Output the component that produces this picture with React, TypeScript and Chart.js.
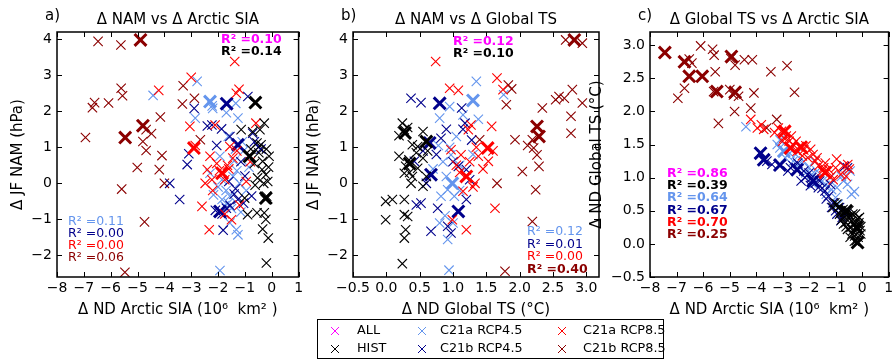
import React, { useEffect, useRef } from 'react';
import { Chart, registerables } from 'chart.js';
Chart.register(...registerables);

const FONT = "'DejaVu Sans', sans-serif";
type P = [number, number];

// ---------- groups ----------
const groupNames = ['HIST', 'C21a RCP4.5', 'C21b RCP4.5', 'C21a RCP8.5', 'C21b RCP8.5'];
const groupColors = ['#000000', '#6495ED', '#00008B', '#FF0000', '#8B0000'];
const groupOrder = [0, 3, 2, 1, 4];
const legendLabels = ['ALL', 'HIST', 'C21a RCP4.5', 'C21b RCP4.5', 'C21a RCP8.5', 'C21b RCP8.5'];
const legendColors = ['#FF00FF', '#000000', '#6495ED', '#00008B', '#FF0000', '#8B0000'];

// ---------- ticks ----------
const siaTicks = [-8, -7, -6, -5, -4, -3, -2, -1, 0, 1];
const namTicks = [-2, -1, 0, 1, 2, 3, 4];
const tsTicks = [-0.5, 0, 0.5, 1, 1.5, 2, 2.5, 3];

// ---------- panel a: SIA vs NAM ----------
const histA: P[] = [[-1.14,1.49],[-0.28,1.67],[-0.44,1.49],[-0.71,1.43],[-0.40,1.07],[-0.55,1.12],[-0.10,0.75],[-0.34,0.61],[-0.20,0.95],[-0.53,0.15],[-0.22,0.24],[-0.36,0.38],[-0.15,0.05],[-0.30,0.00],[-0.24,-0.45],[-0.19,-0.36],[-1.01,-0.41],[-0.90,-0.87],[-0.55,-0.82],[-0.28,-0.82],[-0.22,-1.00],[-0.34,-1.27],[-0.13,-1.52],[-0.20,-2.21],[-0.65,0.55],[-0.48,0.85],[-0.12,0.45],[-0.78,0.95],[-0.62,-0.05]];
const histABold: P[] = [[-0.61,2.24],[-0.83,0.75],[-0.22,-0.41]];
const c45aA: P[] = [[-4.42,2.44],[-2.78,2.83],[-2.20,2.08],[-2.22,2.15],[-1.34,2.22],[-2.85,1.81],[-1.26,1.81],[-1.69,1.96],[-1.62,1.30],[-1.93,0.75],[-2.30,0.28],[-1.44,0.19],[-1.20,0.00],[-2.17,-0.32],[-1.62,-0.55],[-1.56,-0.36],[-1.56,-1.10],[-1.32,-1.29],[-1.26,-1.43],[-1.93,-2.42],[-1.40,0.62],[-1.05,0.90],[-0.95,-0.20],[-1.75,-0.62],[-2.00,-0.10],[-1.10,1.15],[-1.30,0.35],[-0.85,0.45],[-1.85,0.10],[-1.70,-0.20],[-1.50,-0.70],[-1.15,-0.80],[-1.85,-0.45],[-1.35,0.95]];
const c45aABold: P[] = [[-2.30,2.27]];
const c45bA: P[] = [[-0.89,2.41],[-2.89,2.08],[-2.23,1.62],[-2.40,1.59],[-1.87,1.51],[-0.71,1.39],[-1.56,1.30],[-3.15,0.52],[-3.09,0.82],[-3.80,0.00],[-3.43,-0.45],[-1.26,-0.45],[-1.81,-1.30],[-1.69,-0.69],[-1.40,-0.30],[-0.50,1.00],[-1.00,0.20],[-0.40,0.95],[-1.15,0.60],[-1.85,-0.85],[-1.60,0.05],[-0.75,-0.35],[-2.05,1.05],[-1.55,-0.62],[-1.35,-0.15],[-2.10,-0.75],[-1.05,-0.55],[-0.65,1.15]];
const c45bABold: P[] = [[-1.68,2.21],[-1.26,1.07],[-1.93,-0.78]];
const c85aA: P[] = [[-1.38,3.38],[-3.00,2.94],[-1.22,2.61],[-1.32,2.50],[-4.21,2.58],[-3.05,1.58],[-2.11,1.62],[-0.59,1.67],[-1.56,1.02],[-2.30,0.75],[-2.48,0.00],[-0.95,0.05],[-2.60,-0.64],[-2.33,-1.29],[-1.50,-1.01],[-2.23,0.10],[-2.40,0.38],[-1.75,0.10],[-1.30,0.90],[-1.60,0.40],[-2.85,1.05],[-0.80,0.60],[-1.20,-0.60],[-2.05,0.55],[-1.95,0.35],[-1.65,0.50],[-1.45,0.70],[-2.20,-0.20],[-1.75,-0.85]];
const c85aABold: P[] = [[-2.90,0.98],[-1.85,0.28]];
const c85bA: P[] = [[-6.47,3.94],[-5.62,3.84],[-5.61,2.64],[-5.56,2.43],[-6.60,2.24],[-6.68,2.10],[-6.08,2.23],[-6.94,1.27],[-4.68,1.49],[-4.48,1.38],[-4.15,1.84],[-4.80,1.16],[-4.68,0.91],[-4.09,0.77],[-5.01,0.44],[-4.19,0.38],[-4.00,0.00],[-5.59,-0.16],[-4.74,-1.07],[-5.47,-2.47],[-3.30,2.71],[-3.33,2.20],[-2.88,2.36],[-2.66,1.21]];
const c85bABold: P[] = [[-4.89,3.98],[-4.80,1.60],[-5.46,1.27]];

// ---------- panel b: TS vs NAM ----------
const histB: P[] = [[0.24,1.67],[0.27,1.49],[0.19,1.32],[0.32,1.55],[0.55,1.44],[0.39,1.07],[0.47,1.02],[0.19,0.75],[0.34,0.65],[0.29,0.47],[0.47,0.42],[0.55,0.70],[0.60,0.19],[0.39,0.19],[0.37,0.00],[0.55,-0.08],[-0.01,-0.50],[0.09,-0.45],[0.27,-0.45],[-0.01,-1.01],[0.27,-0.87],[0.32,-0.92],[0.29,-1.29],[0.27,-1.52],[0.24,-2.23],[0.27,0.28],[0.45,0.85],[0.35,0.30],[0.62,0.90]];
const histBBold: P[] = [[0.28,1.40],[0.60,1.16],[0.35,0.55]];
const c45aB: P[] = [[1.35,2.83],[0.95,2.13],[0.80,1.81],[1.38,1.78],[0.97,0.79],[0.90,0.19],[0.92,-0.18],[1.02,-0.36],[0.82,-0.36],[0.80,-1.10],[0.92,-1.56],[0.94,-2.41],[1.76,2.46],[1.10,0.50],[1.20,0.20],[0.85,0.60],[1.05,1.30],[0.70,0.40],[1.10,-0.20],[0.88,-0.90],[1.00,-1.10],[1.30,0.80],[0.95,1.00],[1.15,1.90],[0.78,1.05]];
const c45aBBold: P[] = [[1.30,2.30],[0.99,0.00]];
const c45bB: P[] = [[0.37,2.36],[0.52,2.24],[0.90,1.50],[0.82,1.25],[0.42,0.61],[0.52,-0.55],[0.67,-1.33],[0.77,-0.69],[0.92,-1.19],[1.20,-0.45],[1.18,1.67],[1.13,2.09],[1.28,1.20],[1.20,0.38],[1.25,0.10],[1.08,0.47],[0.97,-1.38],[0.55,0.90],[0.75,0.80],[1.00,0.60],[0.60,0.00],[1.15,1.50],[0.45,-0.60]];
const c45bBBold: P[] = [[0.80,2.22],[0.65,1.12],[0.67,0.24],[1.08,-0.78]];
const c85aB: P[] = [[0.74,3.38],[0.95,2.64],[1.08,2.58],[1.66,2.92],[1.58,1.58],[0.97,0.93],[1.12,0.79],[1.38,0.75],[1.53,0.61],[1.33,0.00],[1.15,-0.22],[0.99,-1.01],[1.20,-1.29],[1.63,-0.69],[1.23,1.49],[1.27,1.62],[1.35,1.00],[1.05,0.50],[1.45,0.40],[1.75,2.60],[1.30,-0.10],[1.10,0.30],[1.60,0.90],[1.25,0.60]];
const c85aBBold: P[] = [[1.52,0.98],[1.20,0.19]];
const c85bB: P[] = [[1.83,2.73],[1.80,2.18],[2.34,2.09],[1.93,1.21],[2.19,1.21],[2.21,0.98],[2.26,0.79],[2.29,0.47],[2.24,-0.18],[2.04,0.33],[1.66,0.00],[1.40,1.21],[2.19,-1.06],[1.78,-2.44],[2.59,2.41],[2.67,2.36],[2.54,2.32],[2.79,2.60],[2.94,2.23],[2.77,1.86],[2.77,1.39],[2.69,3.98],[2.94,3.89],[1.88,2.62],[2.12,1.05]];
const c85bBBold: P[] = [[2.26,1.58],[2.29,1.30],[2.82,3.98]];

// ---------- panel c: SIA vs TS ----------
const histC: P[] = [[-1.03,0.62],[-0.72,0.52],[-0.54,0.41],[-0.23,0.31],[-0.05,0.26],[-0.17,0.16],[-0.29,0.04],[-0.78,0.36],[-0.60,0.26],[-0.40,0.35],[-0.10,0.40],[-0.35,0.20],[-0.50,0.50],[-0.85,0.45],[-0.15,0.10],[-0.45,0.10],[-0.65,0.40],[-0.25,0.45],[-0.05,0.15],[-0.90,0.55],[-0.30,0.30],[-0.70,0.30],[-0.20,0.22],[-0.12,0.32],[-0.38,0.15],[-0.55,0.22],[-0.18,0.38],[-1.10,0.55],[-0.95,0.60],[-0.80,0.50],[-0.65,0.48],[-0.45,0.42],[-0.35,0.45],[-0.28,0.12],[-0.08,0.20],[-0.42,0.25],[-0.62,0.32],[-0.22,0.05]];
const histCBold: P[] = [[-0.60,0.50],[-0.17,0.02],[-0.20,0.25]];
const c45aC: P[] = [[-4.38,1.77],[-3.10,1.57],[-3.10,1.45],[-2.73,1.37],[-2.12,1.07],[-1.64,0.97],[-0.78,1.02],[-0.29,0.79],[-1.15,0.82],[-1.35,0.75],[-2.40,1.20],[-2.90,1.30],[-1.90,1.05],[-1.00,0.70],[-0.70,0.95],[-1.80,1.25],[-2.50,1.35],[-1.50,0.95],[-0.45,1.10],[-0.90,0.60],[-2.20,1.25],[-1.20,1.00],[-3.20,1.50],[-2.60,1.25],[-2.35,1.15],[-1.70,1.10],[-1.40,0.88],[-0.95,0.85],[-0.55,0.90],[-0.40,0.75],[-1.85,0.90],[-2.00,1.15]];
const c45aCBold: P[] = [[-2.95,1.40]];
const c45bC: P[] = [[-3.59,1.25],[-2.43,1.22],[-2.00,1.07],[-1.76,0.92],[-1.51,0.84],[-1.27,0.72],[-1.09,0.62],[-0.66,1.17],[-0.60,0.45],[-0.85,0.55],[-2.20,1.10],[-1.90,1.00],[-1.40,0.80],[-1.00,0.50],[-2.70,1.15],[-1.60,0.95],[-0.75,0.40],[-1.20,0.90],[-2.30,0.95],[-3.40,1.20],[-2.80,1.10],[-2.60,1.18],[-2.15,1.00],[-1.95,0.88],[-1.65,0.85],[-1.35,0.68],[-1.15,0.55],[-0.95,0.45],[-0.55,1.15],[-0.80,0.35]];
const c45bCBold: P[] = [[-3.83,1.37],[-3.71,1.27],[-3.10,1.19],[-2.45,1.12],[-1.85,0.95]];
const c85aC: P[] = [[-4.20,1.88],[-3.95,1.75],[-3.80,1.80],[-3.71,1.73],[-2.86,1.63],[-2.67,1.63],[-2.49,1.55],[-2.12,1.48],[-1.76,1.25],[-0.96,1.28],[-0.54,1.20],[-0.48,1.13],[-1.15,1.03],[-1.94,1.43],[-2.25,1.33],[-1.64,1.18],[-3.16,1.75],[-3.04,1.70],[-2.37,1.47],[-1.39,1.22],[-1.09,0.97],[-2.75,1.55],[-2.05,1.30],[-1.50,1.10],[-0.80,1.05],[-3.00,1.55],[-2.60,1.50],[-2.45,1.40],[-2.20,1.42],[-1.85,1.35],[-1.70,1.30],[-1.45,1.15],[-1.25,1.12],[-1.00,1.15],[-0.70,1.18],[-0.60,1.02],[-3.30,1.68],[-2.95,1.60]];
const c85aCBold: P[] = [[-2.92,1.70],[-2.30,1.46],[-1.39,1.08],[-2.70,1.45]];
const c85bC: P[] = [[-6.52,2.79],[-6.42,2.73],[-6.09,2.99],[-5.64,2.94],[-5.58,2.85],[-5.54,2.60],[-6.70,2.35],[-6.95,2.20],[-4.44,2.78],[-4.14,2.78],[-4.79,2.70],[-4.99,2.33],[-4.66,2.23],[-4.08,2.28],[-4.81,2.00],[-4.20,2.05],[-5.42,1.82],[-3.44,2.60],[-2.83,2.69],[-2.55,2.29],[-3.22,1.88],[-4.95,2.80],[-5.60,2.30],[-3.60,1.75],[-4.85,2.25]];
const c85bCBold: P[] = [[-7.44,2.89],[-6.70,2.75],[-6.52,2.53],[-6.03,2.53],[-5.48,2.30],[-4.93,2.83],[-4.79,2.29]];

// ---------- R² annotations ----------
const r2TopA = ['R² =0.10', 'R² =0.14'];
const r2BotA = ['R² =0.11', 'R² =0.00', 'R² =0.00', 'R² =0.06'];
const r2TopB = ['R² =0.12', 'R² =0.10'];
const r2BotB = ['R² =0.12', 'R² =0.01', 'R² =0.00', 'R² =0.40'];
const r2C = ['R² =0.86', 'R² =0.39', 'R² =0.64', 'R² =0.67', 'R² =0.70', 'R² =0.25'];

type Note = { text: string; color: string; bold: boolean; dx: number; dy: number };

function fmt(v: number, dec: number) {
  const s = Math.abs(v).toFixed(dec);
  return v < -1e-9 ? '\u2212' + s : s;
}

function drawX(ctx: CanvasRenderingContext2D, x: number, y: number, h: number) {
  ctx.moveTo(x - h, y - h); ctx.lineTo(x + h, y + h);
  ctx.moveTo(x - h, y + h); ctx.lineTo(x + h, y - h);
}

function makeDeco(cfg: any) {
  return {
    id: 'deco',
    afterDatasetsDraw(chart: any) {
      const { ctx, chartArea: ca } = chart;
      const xs = chart.scales.x, ys = chart.scales.y;
      ctx.save();
      ctx.strokeStyle = '#000';
      ctx.lineWidth = 1;
      ctx.beginPath();
      cfg.xTicks.forEach((v: number) => {
        const p = Math.round(xs.getPixelForValue(v)) + 0.5;
        ctx.moveTo(p, ca.bottom); ctx.lineTo(p, ca.bottom - 5);
        ctx.moveTo(p, ca.top); ctx.lineTo(p, ca.top + 5);
      });
      cfg.yTicks.forEach((v: number) => {
        const p = Math.round(ys.getPixelForValue(v)) + 0.5;
        ctx.moveTo(ca.left, p); ctx.lineTo(ca.left + 5, p);
        ctx.moveTo(ca.right, p); ctx.lineTo(ca.right - 5, p);
      });
      ctx.stroke();
      ctx.lineWidth = 1.5;
      ctx.strokeRect(ca.left, ca.top, ca.right - ca.left, ca.bottom - ca.top);

      ctx.fillStyle = '#000';
      ctx.textBaseline = 'middle';
      ctx.font = `15px ${FONT}`;
      ctx.textAlign = 'center';
      ctx.fillText(cfg.title, (ca.left + ca.right) / 2, 20);
      ctx.textAlign = 'left';
      ctx.fillText(cfg.tag, ca.left - 12, 16);

      cfg.notes.forEach((n: Note) => {
        ctx.font = `${n.bold ? 'bold ' : ''}12.5px ${FONT}`;
        ctx.fillStyle = n.color;
        ctx.fillText(n.text, ca.left + n.dx, ca.top + n.dy);
      });

      if (cfg.legend) {
        const L = cfg.legend;
        ctx.fillStyle = '#fff';
        ctx.fillRect(L.x, L.y, L.w, L.h);
        ctx.strokeStyle = '#000';
        ctx.lineWidth = 1;
        ctx.strokeRect(L.x + 0.5, L.y + 0.5, L.w, L.h);
        ctx.font = `12.8px ${FONT}`;
        legendLabels.forEach((lab, i) => {
          const col = Math.floor(i / 2), row = i % 2;
          const cy = L.y + L.rows[row];
          ctx.strokeStyle = legendColors[i];
          ctx.lineWidth = 1;
          ctx.beginPath();
          drawX(ctx, L.x + L.marks[col], cy, 4);
          ctx.stroke();
          ctx.fillStyle = '#000';
          ctx.fillText(lab, L.x + L.texts[col], cy);
        });
      }
      ctx.restore();
    },
  };
}

function mkSet(pts: P[], gi: number, bold: boolean) {
  const r = bold ? 8.4 : 6.6;
  return {
    label: groupNames[gi] + (bold ? ' mean' : ''),
    data: pts.map(([x, y]) => ({ x, y })),
    pointStyle: 'crossRot',
    pointRadius: r,
    pointHoverRadius: r,
    pointBorderWidth: bold ? 3 : 1.1,
    borderWidth: bold ? 3 : 1.1,
    borderColor: groupColors[gi],
    backgroundColor: groupColors[gi],
    showLine: false,
    order: groupOrder[gi] * 2 + (bold ? 0 : 1),
  };
}

function buildConfig(cfg: any) {
  const datasets: any[] = [];
  cfg.series.forEach((s: [P[], P[]], gi: number) => {
    datasets.push(mkSet(s[0], gi, false));
    datasets.push(mkSet(s[1], gi, true));
  });
  const tickFont = { family: FONT, size: 14 };
  const titleFont = { family: FONT, size: 15 };
  return {
    type: 'scatter',
    data: { datasets },
    options: {
      animation: false,
      responsive: false,
      events: [],
      layout: { padding: { left: 0, top: 32, right: cfg.padRight, bottom: 38 } },
      plugins: { legend: { display: false }, tooltip: { enabled: false } },
      scales: {
        x: {
          type: 'linear', position: 'bottom', min: cfg.xMin, max: cfg.xMax,
          afterBuildTicks: (s: any) => { s.ticks = cfg.xTicks.map((v: number) => ({ value: v })); },
          afterFit: (s: any) => { s.height = 45; },
          grid: { display: false, drawTicks: false }, border: { display: false },
          ticks: { color: '#000', font: tickFont, padding: 3, maxRotation: 0, autoSkip: false, callback: (v: any) => fmt(Number(v), cfg.xDec) },
          title: { display: true, text: cfg.xTitle, color: '#000', font: titleFont, padding: { top: 0, bottom: 3 } },
        },
        y: {
          type: 'linear', position: 'left', min: cfg.yMin, max: cfg.yMax,
          afterBuildTicks: (s: any) => { s.ticks = cfg.yTicks.map((v: number) => ({ value: v })); },
          afterFit: (s: any) => { s.width = cfg.yAxisW; },
          grid: { display: false, drawTicks: false }, border: { display: false },
          ticks: { color: '#000', font: tickFont, padding: 5, autoSkip: false, callback: (v: any) => fmt(Number(v), cfg.yDec) },
          title: { display: true, text: cfg.yTitle, color: '#000', font: titleFont, padding: { top: cfg.yTitlePad, bottom: 0 } },
        },
      },
    },
    plugins: [makeDeco(cfg)],
  };
}

const panels = [
  {
    key: 'a', tag: 'a)', title: 'Δ NAM vs Δ Arctic SIA',
    xTitle: 'Δ ND Arctic SIA (10⁶  km² )', yTitle: 'Δ JF NAM (hPa)',
    xMin: -8, xMax: 1, xTicks: siaTicks, xDec: 0,
    yMin: -2.6, yMax: 4.2, yTicks: namTicks, yDec: 0,
    canvas: { x: 0, w: 310 }, yAxisW: 57, padRight: 7, yTitlePad: 9.6,
    series: [[histA, histABold], [c45aA, c45aABold], [c45bA, c45bABold], [c85aA, c85aABold], [c85bA, c85bABold]],
    notes: [
      { text: r2TopA[0], color: '#FF00FF', bold: true, dx: 164, dy: 8 },
      { text: r2TopA[1], color: '#000000', bold: true, dx: 164, dy: 20 },
      { text: r2BotA[0], color: groupColors[1], bold: false, dx: 11, dy: 190 },
      { text: r2BotA[1], color: groupColors[2], bold: false, dx: 11, dy: 202 },
      { text: r2BotA[2], color: groupColors[3], bold: false, dx: 11, dy: 214 },
      { text: r2BotA[3], color: groupColors[4], bold: false, dx: 11, dy: 226 },
    ],
  },
  {
    key: 'b', tag: 'b)', title: 'Δ NAM vs Δ Global TS',
    xTitle: 'Δ ND Global TS (°C)', yTitle: 'Δ JF NAM (hPa)',
    xMin: -0.5, xMax: 3.19, xTicks: tsTicks, xDec: 1,
    yMin: -2.6, yMax: 4.2, yTicks: namTicks, yDec: 0,
    canvas: { x: 290, w: 380 }, yAxisW: 63, padRight: 71, yTitlePad: 15.6,
    series: [[histB, histBBold], [c45aB, c45aBBold], [c45bB, c45bBBold], [c85aB, c85aBBold], [c85bB, c85bBBold]],
    notes: [
      { text: r2TopB[0], color: '#FF00FF', bold: true, dx: 100, dy: 10 },
      { text: r2TopB[1], color: '#000000', bold: true, dx: 100, dy: 22 },
      { text: r2BotB[0], color: groupColors[1], bold: false, dx: 174, dy: 200 },
      { text: r2BotB[1], color: groupColors[2], bold: false, dx: 174, dy: 212.5 },
      { text: r2BotB[2], color: groupColors[3], bold: false, dx: 174, dy: 225 },
      { text: r2BotB[3], color: groupColors[4], bold: true, dx: 174, dy: 237.5 },
    ],
    legend: { x: 27, y: 319, w: 346, h: 39, rows: [12, 30], marks: [18, 105, 245], texts: [40, 123, 266] },
  },
  {
    key: 'c', tag: 'c)', title: 'Δ Global TS vs Δ Arctic SIA',
    xTitle: 'Δ ND Arctic SIA (10⁶  km² )', yTitle: 'Δ ND Global TS (°C)',
    xMin: -8, xMax: 1, xTicks: siaTicks, xDec: 0,
    yMin: -0.5, yMax: 3.2, yTicks: tsTicks, yDec: 1,
    canvas: { x: 580, w: 320 }, yAxisW: 70, padRight: 5, yTitlePad: 8.6,
    series: [[histC, histCBold], [c45aC, c45aCBold], [c45bC, c45bCBold], [c85aC, c85aCBold], [c85bC, c85bCBold]],
    notes: [
      { text: r2C[0], color: '#FF00FF', bold: true, dx: 17, dy: 142 },
      { text: r2C[1], color: '#000000', bold: true, dx: 17, dy: 154 },
      { text: r2C[2], color: groupColors[1], bold: true, dx: 17, dy: 166 },
      { text: r2C[3], color: groupColors[2], bold: true, dx: 17, dy: 178.3 },
      { text: r2C[4], color: groupColors[3], bold: true, dx: 17, dy: 190.6 },
      { text: r2C[5], color: groupColors[4], bold: true, dx: 17, dy: 202.8 },
    ],
  },
];

function Panel({ cfg }: { cfg: any }) {
  const ref = useRef<HTMLCanvasElement>(null);
  useEffect(() => {
    const chart = new Chart(ref.current as HTMLCanvasElement, buildConfig(cfg) as any);
    return () => chart.destroy();
  }, []);
  return (
    <canvas
      ref={ref}
      width={cfg.canvas.w}
      height={360}
      style={{ position: 'absolute', left: cfg.canvas.x, top: 0, width: cfg.canvas.w, height: 360 }}
    />
  );
}

export default function App() {
  Chart.defaults.font.family = FONT;
  return (
    <div style={{ position: 'fixed', left: 0, top: 0, width: 895, height: 360, overflow: 'hidden', background: '#fff' }}>
      {panels.map((p) => <Panel key={p.key} cfg={p} />)}
    </div>
  );
}
